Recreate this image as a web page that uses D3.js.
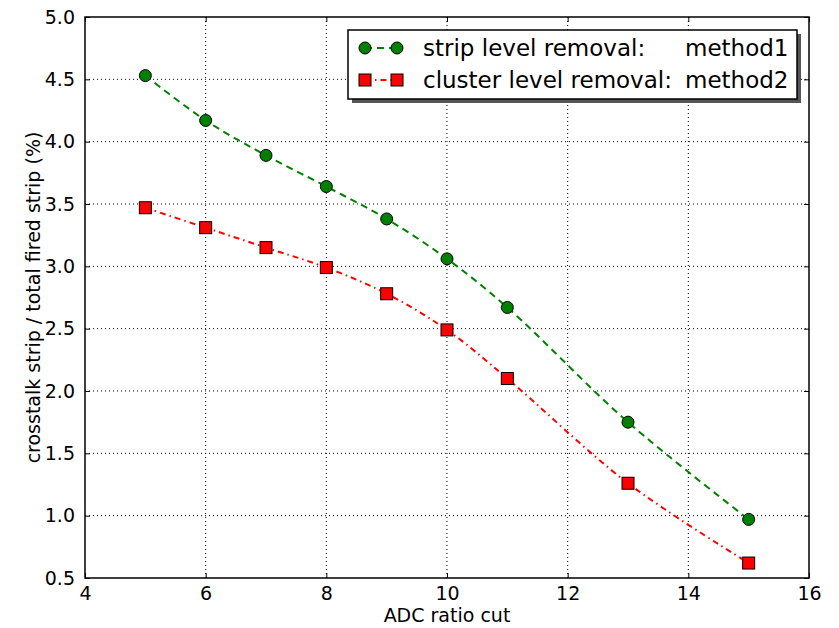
<!DOCTYPE html>
<html>
<head>
<meta charset="utf-8">
<script src="https://cdn.jsdelivr.net/npm/d3@7"></script>
<style>
body { margin:0; background:#fff; }
text { font-family: "DejaVu Sans", sans-serif; fill:#000; }
</style>
</head>
<body>
<div id="chart"></div>
<script>
// data
var cuts = [5, 6, 7, 8, 9, 10, 11, 13, 15];
var method1 = [4.53, 4.17, 3.89, 3.64, 3.38, 3.06, 2.67, 1.75, 0.97];
var method2 = [3.47, 3.31, 3.15, 2.99, 2.78, 2.49, 2.10, 1.26, 0.62];
var xTicks = [4, 6, 8, 10, 12, 14, 16];
var yTicks = [0.5, 1.0, 1.5, 2.0, 2.5, 3.0, 3.5, 4.0, 4.5, 5.0];
var labels = ["strip level removal:", "cluster level removal:"];
var methods = ["method1", "method2"];

var W = 839, H = 628;
var margin = {top: 17, right: 30, bottom: 50, left: 85},
    width = W - margin.left - margin.right,
    height = H - margin.top - margin.bottom;

var svg = d3.select("#chart").append("svg")
    .attr("width", W)
    .attr("height", H);
var g = svg.append("g")
    .attr("transform", "translate(" + margin.left + "," + margin.top + ")");

var x = d3.scaleLinear().domain([4, 16]).range([0, width]);
var y = d3.scaleLinear().domain([0.5, 5.0]).range([height, 0]);

// grid
g.selectAll(".gx").data(xTicks.slice(1, -1)).enter().append("line")
    .attr("x1", function(d) { return x(d); }).attr("x2", function(d) { return x(d); })
    .attr("y1", 0).attr("y2", height)
    .attr("stroke", "#000").attr("stroke-width", 1).attr("stroke-dasharray", "1,3");
g.selectAll(".gy").data(yTicks.slice(1, -1)).enter().append("line")
    .attr("y1", function(d) { return y(d); }).attr("y2", function(d) { return y(d); })
    .attr("x1", 0).attr("x2", width)
    .attr("stroke", "#000").attr("stroke-width", 1).attr("stroke-dasharray", "1,3");

// axes with inward ticks
var fmt = d3.format(".1f");
g.append("g").attr("transform", "translate(0," + height + ")")
    .call(d3.axisBottom(x).tickValues(xTicks).tickSizeInner(-5).tickSizeOuter(0).tickPadding(9))
    .call(function(a) { a.select(".domain").remove(); a.selectAll("text").style("font-size", "19px"); });
g.append("g")
    .call(d3.axisTop(x).tickValues(xTicks).tickSizeInner(-5).tickSizeOuter(0).tickFormat(""))
    .call(function(a) { a.select(".domain").remove(); });
g.append("g")
    .call(d3.axisLeft(y).tickValues(yTicks).tickFormat(fmt).tickSizeInner(-5).tickSizeOuter(0).tickPadding(10))
    .call(function(a) { a.select(".domain").remove(); a.selectAll("text").style("font-size", "19px"); });
g.append("g").attr("transform", "translate(" + width + ",0)")
    .call(d3.axisRight(y).tickValues(yTicks).tickSizeInner(-5).tickSizeOuter(0).tickFormat(""))
    .call(function(a) { a.select(".domain").remove(); });
g.selectAll(".tick line").attr("stroke", "#000");

g.append("rect").attr("width", width).attr("height", height)
    .attr("fill", "none").attr("stroke", "#000").attr("stroke-width", 1.5);

// series
var series = [
  {vals: method1, color: "#008000", dash: "7,5", shape: "circle"},
  {vals: method2, color: "#ff0000", dash: "6,4,1.5,4", shape: "square"}
];
var line = d3.line()
    .x(function(d) { return x(d[0]); })
    .y(function(d) { return y(d[1]); })
    .curve(d3.curveCatmullRom);

function marker(sel, shape, color) {
  if (shape === "circle") {
    sel.append("circle").attr("r", 6).attr("fill", color).attr("stroke", "#000").attr("stroke-width", 1);
  } else {
    sel.append("rect").attr("x", -6).attr("y", -6).attr("width", 12).attr("height", 12)
      .attr("fill", color).attr("stroke", "#000").attr("stroke-width", 1);
  }
}

series.forEach(function(s) {
  var pts = cuts.map(function(c, i) { return [c, s.vals[i]]; });
  g.append("path").datum(pts).attr("d", line)
    .attr("fill", "none").attr("stroke", s.color).attr("stroke-width", 2)
    .attr("stroke-dasharray", s.dash);
  pts.forEach(function(p) {
    var m = g.append("g").attr("transform", "translate(" + x(p[0]) + "," + y(p[1]) + ")");
    marker(m, s.shape, s.color);
  });
});

// legend
var lg = svg.append("g").attr("transform", "translate(348,30)");
lg.append("rect").attr("x", 4).attr("y", 4).attr("width", 449).attr("height", 69).attr("fill", "#555");
lg.append("rect").attr("width", 449).attr("height", 69).attr("fill", "#fff").attr("stroke", "#000").attr("stroke-width", 1.5);
series.forEach(function(s, i) {
  var yy = 18 + i * 32;
  lg.append("line").attr("x1", 17).attr("x2", 49).attr("y1", yy).attr("y2", yy)
    .attr("stroke", s.color).attr("stroke-width", 2).attr("stroke-dasharray", s.dash);
  [17, 49].forEach(function(mx) {
    marker(lg.append("g").attr("transform", "translate(" + mx + "," + yy + ")"), s.shape, s.color);
  });
  var t = lg.append("text").attr("y", yy).attr("dy", "0.35em").style("font-size", "23px");
  t.append("tspan").attr("x", 75).text(labels[i]);
  t.append("tspan").attr("x", 337).text(methods[i]);
});

// axis titles
svg.append("text").attr("x", margin.left + width / 2).attr("y", 622)
    .attr("text-anchor", "middle").style("font-size", "19px").text("ADC ratio cut");
svg.append("text").attr("transform", "translate(40," + (margin.top + height / 2) + ") rotate(-90)")
    .attr("text-anchor", "middle").style("font-size", "19px").text("crosstalk strip / total fired strip (%)");
</script>
</body>
</html>
